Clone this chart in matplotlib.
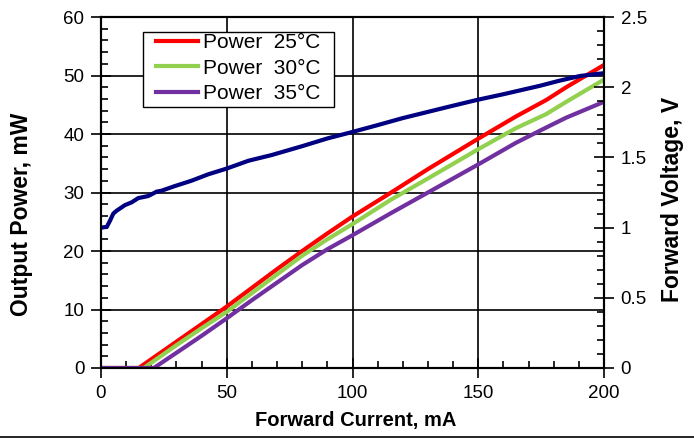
import matplotlib
matplotlib.use("Agg")
import matplotlib.pyplot as plt
from matplotlib.lines import Line2D
from matplotlib.patches import Rectangle
from matplotlib.ticker import MultipleLocator

plt.rcParams['font.family'] = ['Liberation Sans', 'DejaVu Sans']

# Power series (Output Power, mW vs Forward Current, mA)
i_red = [0, 15, 20, 30, 40, 50, 60, 70, 80, 90, 100, 115, 130, 150, 165, 177, 185, 200]
p_red = [0, 0, 1.5, 4.5, 7.5, 10.5, 13.7, 16.9, 20.0, 23.0, 25.9, 29.9, 34.0, 39.2, 43.0, 45.8, 48.0, 51.8]

i_green = [0, 17, 20, 30, 40, 50, 60, 70, 80, 90, 100, 115, 130, 150, 165, 177, 185, 200]
p_green = [0, 0, 0.9, 3.9, 6.8, 9.6, 12.8, 16.0, 19.2, 22.0, 24.6, 28.7, 32.4, 37.4, 41.0, 43.4, 45.5, 49.3]

i_purple = [0, 21, 30, 40, 50, 60, 70, 80, 90, 100, 115, 130, 150, 165, 177, 185, 200]
p_purple = [0, 0, 2.6, 5.5, 8.5, 11.6, 14.6, 17.6, 20.3, 22.7, 26.4, 30.0, 34.8, 38.5, 41.1, 42.8, 45.5]

# Forward voltage series (V)
i_volt = [0, 2.3, 3.6, 4.9, 6.2, 9.5, 12.2, 14.8, 18.8, 22.1, 24.1, 29.4, 36, 42.7, 49.9,
          58.6, 67.9, 80, 90, 99.7, 110, 120, 137.4, 149.4, 160, 174.5, 182, 190.5, 200]
v_volt = [1.00, 1.005, 1.05, 1.10, 1.12, 1.16, 1.18, 1.21, 1.225, 1.256, 1.263, 1.296, 1.334, 1.38, 1.42,
          1.476, 1.517, 1.58, 1.635, 1.68, 1.73, 1.78, 1.857, 1.909, 1.95, 2.01, 2.045, 2.08, 2.10]

labels = ["Power  25\u00b0C", "Power  30\u00b0C", "Power  35\u00b0C"]
x_ticks = [0, 50, 100, 150, 200]
y_ticks = [0, 10, 20, 30, 40, 50, 60]
v_ticks = [0, 0.5, 1, 1.5, 2, 2.5]
v_ticklabels = ["0", "0.5", "1", "1.5", "2", "2.5"]

W, H = 694, 438
L, R, T, B = 101, 604, 17, 368
fig = plt.figure(figsize=(W / 100, H / 100), dpi=100)
ax = fig.add_axes([L / W, (H - B) / H, (R - L) / W, (B - T) / H])
aw, ah = R - L, B - T

ax.plot(i_red, p_red, color='#FF0000', lw=3, label=labels[0])
ax.plot(i_green, p_green, color='#92D050', lw=3, label=labels[1])
ax.plot(i_purple, p_purple, color='#7030A0', lw=3, label=labels[2])

ax.set_xlim(0, 200)
ax.set_ylim(0, 60)
ax.set_xticks(x_ticks)
ax.set_yticks(y_ticks)
ax.xaxis.set_minor_locator(MultipleLocator(10))
ax.yaxis.set_minor_locator(MultipleLocator(2))
ax.grid(True, which='major', color='black', lw=1.2)
ax.set_axisbelow(True)
ax.tick_params(axis='both', which='major', direction='inout', length=14, width=1.2,
               labelsize=13.5, pad=5)
ax.tick_params(axis='both', which='minor', direction='in', length=5, width=1.2)
for s in ax.spines.values():
    s.set_linewidth(1.5)

ax.set_xlabel("Forward Current, mA", fontsize=14.5, fontweight='bold')
ax.xaxis.set_label_coords((356 - L) / aw, (B - 411) / ah)
ax.set_ylabel("Output Power, mW", fontsize=16.5, fontweight='bold')
ax.yaxis.label.set_va('center')
ax.yaxis.set_label_coords((21.5 - L) / aw, (B - 214) / ah)

ax2 = ax.twinx()
ax2.plot(i_volt, v_volt, color='#000080', lw=3)
ax2.set_ylim(0, 2.5)
ax2.set_yticks(v_ticks)
ax2.set_yticklabels(v_ticklabels)
ax2.yaxis.set_minor_locator(MultipleLocator(0.1))
ax2.tick_params(axis='y', which='major', direction='inout', length=14, width=1.2,
                labelsize=13.5, pad=5)
ax2.tick_params(axis='y', which='minor', direction='in', length=5, width=1.2)
ax2.set_ylabel("Forward Voltage, V", fontsize=16.5, fontweight='bold', rotation=90)
ax2.yaxis.label.set_va('center')
ax2.yaxis.set_label_coords((673 - L) / aw, (B - 199) / ah)
for s in ax2.spines.values():
    s.set_linewidth(1.5)

# legend frame
ax.add_patch(Rectangle(((143 - L) / aw, (B - 107) / ah), 191 / aw, 75 / ah,
                       transform=ax.transAxes, facecolor='white', edgecolor='black',
                       lw=1.0, zorder=4.5, clip_on=False))
leg = ax.legend(loc='upper left', bbox_to_anchor=((156 - L) / aw, (B - 33) / ah), fontsize=15,
                frameon=False, handlelength=2.0, handletextpad=0.25, labelspacing=0.32,
                borderpad=0, borderaxespad=0)
leg.set_zorder(5)

fig.add_artist(Line2D([0, 1], [1 / H, 1 / H], transform=fig.transFigure, color='black', lw=1.2))

fig.savefig("out.png", dpi=100)
